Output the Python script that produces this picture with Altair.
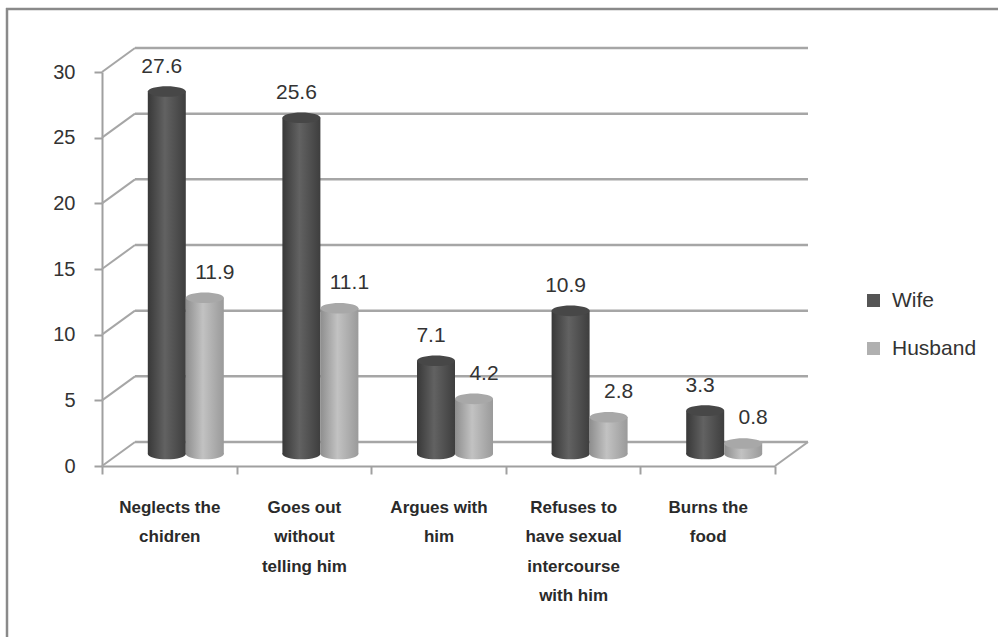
import altair as alt
import pandas as pd

# Reasons for which wife / husband beating is considered justified (%)
categories = [
    "Neglects the\nchidren",
    "Goes out\nwithout\ntelling him",
    "Argues with\nhim",
    "Refuses to\nhave sexual\nintercourse\nwith him",
    "Burns the\nfood",
]
wife = [27.6, 25.6, 7.1, 10.9, 3.3]
husband = [11.9, 11.1, 4.2, 2.8, 0.8]
y_ticks = [0, 5, 10, 15, 20, 25, 30]

W, H = 673, 394          # plot area
DX, DY = 33, -24         # depth of the pseudo-3D box
BAR_W = 38

wife_df = pd.DataFrame({"cat": categories, "value": wife, "series": "Wife"})
husb_df = pd.DataFrame({"cat": categories, "value": husband, "series": "Husband"})
tick_df = pd.DataFrame({"tick": y_ticks})

x_enc = alt.X(
    "cat:N",
    sort=categories,
    scale=alt.Scale(domain=categories, paddingInner=0, paddingOuter=0),
    axis=alt.Axis(
        title=None,
        labelAngle=0,
        labelExpr="split(datum.label, '\\n')",
        labelLineHeight=29.5,
        labelFontSize=17,
        labelFontWeight="bold",
        labelFont="Liberation Sans",
        labelColor="#2a2a2a",
        labelPadding=33,
        tickBand="extent",
        tickSize=8,
        tickColor="#a0a0a0",
        tickWidth=2,
        domainColor="#a0a0a0",
        domainWidth=2,
        labelBaseline="middle",
    ),
)
y_scale = alt.Scale(domain=[0, 30], nice=False, zero=True)
y_axis = alt.Axis(
    title=None,
    values=y_ticks,
    grid=False,
    labelFontSize=20,
    labelFont="Liberation Sans",
    labelColor="#333333",
    labelPadding=19,
    tickSize=8,
    tickColor="#a0a0a0",
    tickWidth=2,
    domainColor="#a0a0a0",
    domainWidth=2,
)
y_enc = alt.Y("value:Q", scale=y_scale, axis=y_axis)
tick_y = alt.Y("tick:Q", scale=y_scale, axis=y_axis)

grid_color = "#a6a6a6"

# back-wall gridlines
back_grid = alt.Chart(tick_df).mark_rule(
    color=grid_color, strokeWidth=2.5, yOffset=DY
).encode(
    y=tick_y,
    x=alt.value(DX),
    x2=alt.value(W + DX),
)
# side-wall diagonals
side_diag = alt.Chart(tick_df).mark_rule(
    color=grid_color, strokeWidth=2, y2Offset=DY
).encode(
    y=tick_y,
    y2="tick:Q",
    x=alt.value(0),
    x2=alt.value(DX),
)
# right edge of the floor
floor_diag = alt.Chart(tick_df.head(1)).mark_rule(
    color=grid_color, strokeWidth=2, y2Offset=DY
).encode(
    y=tick_y,
    y2="tick:Q",
    x=alt.value(W),
    x2=alt.value(W + DX),
)

# frame around the chart area (top and left edges)
frame_top = alt.Chart(tick_df.head(1)).mark_rule(color="#8a8a8a", strokeWidth=2.5).encode(
    x=alt.value(-96), x2=alt.value(W + 240), y=alt.value(-63)
)
frame_left = alt.Chart(tick_df.head(1)).mark_rule(color="#8a8a8a", strokeWidth=2.5).encode(
    x=alt.value(-95), y=alt.value(-64), y2=alt.value(H + 200)
)

ellipse = "M -1 0 A 1 0.28 0 1 0 1 0 A 1 0.28 0 1 0 -1 0 Z"


def cylinder(df, shift, body_stops, top_color, label_dx):
    grad = alt.Gradient(
        gradient="linear",
        stops=[alt.GradientStop(offset=o, color=c) for o, c in body_stops],
        x1=0, x2=1, y1=0, y2=0,
    )
    base = alt.Chart(df)
    body = base.mark_bar(
        width=BAR_W, xOffset=shift, yOffset=DY / 2, y2Offset=DY / 2, color=grad
    ).encode(x=x_enc, y=y_enc, y2=alt.datum(0))
    bottom = base.mark_point(
        shape=ellipse, size=BAR_W * BAR_W, filled=True, opacity=1,
        fill=grad, strokeWidth=0, xOffset=shift, yOffset=DY / 2,
    ).encode(x=x_enc, y=alt.datum(0))
    top = base.mark_point(
        shape=ellipse, size=BAR_W * BAR_W, filled=True, opacity=1,
        color=top_color, strokeWidth=0, xOffset=shift, yOffset=DY / 2,
    ).encode(x=x_enc, y=y_enc)
    label = base.mark_text(
        fontSize=21, font="Liberation Sans", color="#333333",
        xOffset=shift + label_dx, yOffset=DY / 2, dy=-25,
    ).encode(x=x_enc, y=y_enc, text=alt.Text("value:Q", format=".1f"))
    return body + bottom + top + label


wife_cyl = cylinder(
    wife_df, DX / 2 - BAR_W / 2,
    [(0, "#383838"), (0.45, "#626262"), (1, "#3e3e3e")], "#474747", -5,
)
husb_cyl = cylinder(
    husb_df, DX / 2 + BAR_W / 2,
    [(0, "#8e8e8e"), (0.45, "#c2c2c2"), (1, "#9a9a9a")], "#a8a8a8", 10,
)

# legend
legend_df = pd.DataFrame({"series": ["Wife", "Husband"], "value": [0, 0]})
legend_layer = alt.Chart(legend_df).mark_square(size=0, opacity=1).encode(
    color=alt.Color(
        "series:N",
        sort=["Wife", "Husband"],
        scale=alt.Scale(domain=["Wife", "Husband"], range=["#555555", "#b0b0b0"]),
        legend=alt.Legend(
            title=None,
            orient="none",
            legendX=W + 88,
            legendY=218,
            symbolType="square",
            symbolSize=169,
            symbolStrokeWidth=0,
            symbolOpacity=1,
            labelFontSize=21,
            labelFont="Liberation Sans",
            labelColor="#333333",
            rowPadding=26,
            labelOffset=8,
        ),
    ),
    y=alt.Y("value:Q", scale=y_scale, axis=y_axis),
)

chart = alt.layer(
    frame_top, frame_left, back_grid, side_diag, floor_diag,
    wife_cyl, husb_cyl, legend_layer,
).properties(
    width=W, height=H,
    padding={"left": 102, "top": 72, "right": 998 - 102 - W, "bottom": 637 - 72 - H},
    autosize=alt.AutoSizeParams(type="none"),
    background="white",
).configure_view(stroke=None)

chart.save("out.html", embed_options={"renderer": "svg", "actions": False})
